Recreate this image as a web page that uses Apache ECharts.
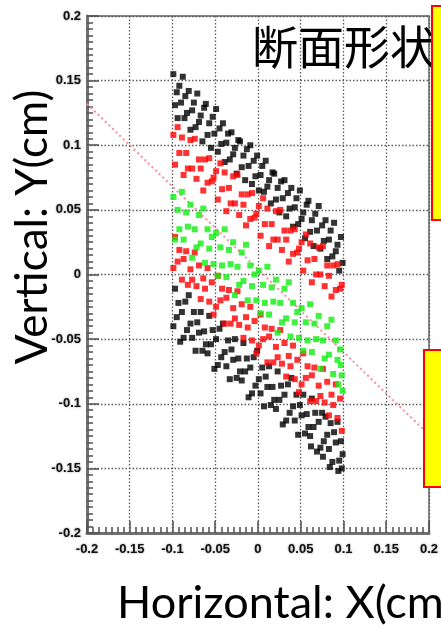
<!DOCTYPE html>
<html>
<head>
<meta charset="utf-8">
<script src="https://cdn.jsdelivr.net/npm/echarts@6.0.0/dist/echarts.min.js"></script>
<style>
html, body { margin: 0; padding: 0; background: #fff; }
#chart { width: 441px; height: 626px; }
</style>
</head>
<body>
<div id="chart"></div>
<script>
// outer (black) particles, upper and lower bands
const blackPts = [
  [-0.099,0.155],[-0.097,0.131],[-0.095,0.141],[-0.094,0.121],[-0.092,0.146],[-0.090,0.133],[-0.088,0.153],[-0.086,0.121],
  [-0.085,0.138],[-0.083,0.125],[-0.081,0.142],[-0.079,0.112],[-0.077,0.127],[-0.075,0.133],[-0.073,0.114],[-0.071,0.140],
  [-0.069,0.118],[-0.067,0.123],[-0.065,0.103],[-0.063,0.129],[-0.061,0.132],[-0.059,0.108],[-0.057,0.117],[-0.055,0.098],
  [-0.053,0.122],[-0.051,0.109],[-0.049,0.128],[-0.047,0.095],[-0.045,0.113],[-0.043,0.101],[-0.041,0.117],[-0.039,0.087],
  [-0.037,0.102],[-0.035,0.109],[-0.033,0.089],[-0.031,0.110],[-0.029,0.093],[-0.027,0.098],[-0.025,0.078],[-0.023,0.104],
  [-0.021,0.103],[-0.019,0.083],[-0.017,0.092],[-0.015,0.073],[-0.013,0.097],[-0.011,0.084],[-0.009,0.100],[-0.007,0.070],
  [-0.005,0.088],[-0.003,0.076],[-0.001,0.092],[0.001,0.065],[0.003,0.077],[0.005,0.084],[0.007,0.064],[0.009,0.088],
  [0.011,0.068],[0.013,0.073],[0.015,0.055],[0.017,0.079],[0.019,0.078],[0.021,0.058],[0.023,0.067],[0.025,0.048],
  [0.027,0.072],[0.029,0.059],[0.031,0.073],[0.033,0.045],[0.035,0.063],[0.037,0.051],[0.039,0.067],[0.041,0.037],
  [0.043,0.052],[0.045,0.059],[0.047,0.039],[0.049,0.065],[0.051,0.043],[0.053,0.048],[0.055,0.028],[0.057,0.054],
  [0.059,0.057],[0.061,0.033],[0.063,0.042],[0.065,0.022],[0.067,0.047],[0.069,0.034],[0.071,0.053],[0.073,0.020],
  [0.075,0.038],[0.077,0.026],[0.079,0.042],[0.081,0.012],[0.083,0.027],[0.085,0.034],[0.087,0.014],[0.089,0.040],
  [0.091,0.018],[0.093,0.023],[0.095,0.003],[0.097,0.029],[0.099,0.009],
  [-0.099,-0.040],[-0.097,-0.011],[-0.095,-0.033],[-0.093,-0.022],[-0.091,-0.052],[-0.089,-0.029],[-0.087,-0.049],[-0.085,-0.021],
  [-0.083,-0.043],[-0.081,-0.016],[-0.079,-0.038],[-0.077,-0.049],[-0.075,-0.029],[-0.073,-0.059],[-0.071,-0.037],[-0.069,-0.045],
  [-0.067,-0.029],[-0.065,-0.059],[-0.063,-0.044],[-0.061,-0.054],[-0.059,-0.061],[-0.057,-0.032],[-0.055,-0.054],[-0.053,-0.043],
  [-0.051,-0.073],[-0.049,-0.050],[-0.047,-0.070],[-0.045,-0.042],[-0.043,-0.064],[-0.041,-0.038],[-0.039,-0.060],[-0.037,-0.071],
  [-0.035,-0.051],[-0.033,-0.081],[-0.031,-0.058],[-0.029,-0.066],[-0.027,-0.050],[-0.025,-0.080],[-0.023,-0.065],[-0.021,-0.075],
  [-0.019,-0.082],[-0.017,-0.053],[-0.015,-0.075],[-0.013,-0.065],[-0.011,-0.095],[-0.009,-0.072],[-0.007,-0.092],[-0.005,-0.064],
  [-0.003,-0.086],[-0.001,-0.059],[0.001,-0.081],[0.003,-0.092],[0.005,-0.072],[0.007,-0.102],[0.009,-0.079],[0.011,-0.087],
  [0.013,-0.071],[0.015,-0.101],[0.017,-0.087],[0.019,-0.097],[0.021,-0.104],[0.023,-0.075],[0.025,-0.097],[0.027,-0.086],
  [0.029,-0.116],[0.031,-0.093],[0.033,-0.113],[0.035,-0.085],[0.037,-0.107],[0.039,-0.080],[0.041,-0.102],[0.043,-0.113],
  [0.045,-0.093],[0.047,-0.124],[0.049,-0.101],[0.051,-0.109],[0.053,-0.093],[0.055,-0.123],[0.057,-0.108],[0.059,-0.118],
  [0.061,-0.125],[0.063,-0.096],[0.065,-0.118],[0.067,-0.107],[0.069,-0.137],[0.071,-0.114],[0.073,-0.134],[0.075,-0.107],
  [0.077,-0.129],[0.079,-0.110],[0.081,-0.124],[0.083,-0.135],[0.085,-0.115],[0.087,-0.145],[0.089,-0.122],[0.091,-0.130],
  [0.093,-0.114],[0.095,-0.144],[0.097,-0.129],[0.099,-0.139],[0.094,-0.152],[0.084,-0.149],[0.076,-0.141],[0.062,-0.133],
  [0.098,-0.150]
]

// middle (red) particles, upper and lower bands
const redPts = [
  [-0.099,0.108],[-0.097,0.085],[-0.094,0.114],[-0.092,0.094],[-0.089,0.106],[-0.087,0.077],[-0.084,0.094],[-0.082,0.082],
  [-0.079,0.104],[-0.077,0.082],[-0.074,0.105],[-0.072,0.074],[-0.069,0.089],[-0.067,0.082],[-0.064,0.065],[-0.062,0.089],
  [-0.059,0.071],[-0.057,0.090],[-0.054,0.072],[-0.052,0.075],[-0.049,0.080],[-0.047,0.058],[-0.044,0.086],[-0.042,0.066],
  [-0.039,0.079],[-0.037,0.049],[-0.034,0.067],[-0.032,0.055],[-0.029,0.076],[-0.027,0.055],[-0.024,0.077],[-0.022,0.046],
  [-0.019,0.062],[-0.017,0.054],[-0.014,0.038],[-0.012,0.062],[-0.009,0.043],[-0.007,0.063],[-0.004,0.044],[-0.002,0.047],
  [0.001,0.053],[0.003,0.030],[0.006,0.059],[0.008,0.039],[0.011,0.051],[0.013,0.022],[0.016,0.039],[0.018,0.027],
  [0.021,0.049],[0.023,0.027],[0.026,0.050],[0.028,0.019],[0.031,0.034],[0.033,0.027],[0.036,0.010],[0.038,0.034],
  [0.041,0.016],[0.043,0.035],[0.046,0.017],[0.048,0.020],[0.051,0.025],[0.053,0.003],[0.056,0.031],[0.058,0.011],
  [0.061,0.024],[0.063,-0.006],[0.066,0.012],[0.068,0.000],[0.071,0.021],[0.073,0.000],[0.076,0.022],[0.078,-0.009],
  [0.081,0.007],[0.083,-0.001],[0.086,-0.017],[0.088,0.007],[0.091,-0.012],[0.093,0.008],[0.096,-0.011],[0.098,-0.008],
  [-0.099,0.005],[-0.097,0.029],[-0.094,0.010],[-0.092,0.019],[-0.089,-0.004],[-0.087,0.012],[-0.084,0.018],[-0.082,-0.008],
  [-0.079,0.004],[-0.077,-0.004],[-0.074,0.017],[-0.072,-0.009],[-0.069,0.007],[-0.067,-0.019],[-0.064,-0.003],[-0.062,-0.011],
  [-0.059,0.005],[-0.057,-0.021],[-0.054,-0.006],[-0.052,-0.031],[-0.049,-0.025],[-0.047,-0.001],[-0.044,-0.020],[-0.042,-0.011],
  [-0.039,-0.038],[-0.037,-0.018],[-0.034,-0.012],[-0.032,-0.038],[-0.029,-0.026],[-0.027,-0.034],[-0.024,-0.013],[-0.022,-0.039],
  [-0.019,-0.023],[-0.017,-0.049],[-0.014,-0.033],[-0.012,-0.041],[-0.009,-0.025],[-0.007,-0.051],[-0.004,-0.036],[-0.002,-0.061],
  [0.001,-0.055],[0.003,-0.031],[0.006,-0.050],[0.008,-0.041],[0.011,-0.068],[0.013,-0.048],[0.016,-0.042],[0.018,-0.068],
  [0.021,-0.056],[0.023,-0.064],[0.026,-0.043],[0.028,-0.069],[0.031,-0.053],[0.033,-0.079],[0.036,-0.063],[0.038,-0.071],
  [0.041,-0.055],[0.043,-0.081],[0.046,-0.066],[0.048,-0.091],[0.051,-0.085],[0.053,-0.061],[0.056,-0.080],[0.058,-0.071],
  [0.061,-0.098],[0.063,-0.078],[0.066,-0.072],[0.068,-0.098],[0.071,-0.086],[0.073,-0.094],[0.076,-0.073],[0.078,-0.099],
  [0.081,-0.083],[0.083,-0.109],[0.086,-0.093],[0.088,-0.101],[0.091,-0.085],[0.093,-0.111],[0.096,-0.096],[0.098,-0.121]
]

// core (green) particles
const greenPts = [
  [-0.099,0.060],[-0.097,0.027],[-0.094,0.050],[-0.092,0.035],[-0.089,0.064],[-0.087,0.027],[-0.084,0.048],[-0.082,0.037],
  [-0.079,0.054],[-0.077,0.013],[-0.074,0.035],[-0.072,0.021],[-0.069,0.046],[-0.067,0.024],[-0.064,0.051],[-0.062,0.009],
  [-0.059,0.035],[-0.057,0.020],[-0.054,0.029],[-0.052,0.008],[-0.049,0.032],[-0.047,-0.001],[-0.044,0.021],[-0.042,0.007],
  [-0.039,0.035],[-0.037,-0.002],[-0.034,0.019],[-0.032,0.008],[-0.029,0.025],[-0.027,-0.016],[-0.024,0.006],[-0.022,-0.008],
  [-0.019,0.017],[-0.017,-0.005],[-0.014,0.023],[-0.012,-0.020],[-0.009,0.007],[-0.007,-0.009],[-0.004,0.000],[-0.002,-0.020],
  [0.001,0.003],[0.003,-0.030],[0.006,-0.008],[0.008,-0.022],[0.011,0.006],[0.013,-0.031],[0.016,-0.010],[0.018,-0.021],
  [0.021,-0.004],[0.023,-0.045],[0.026,-0.022],[0.028,-0.037],[0.031,-0.011],[0.033,-0.034],[0.036,-0.006],[0.038,-0.048],
  [0.041,-0.022],[0.043,-0.037],[0.046,-0.029],[0.048,-0.049],[0.051,-0.026],[0.053,-0.059],[0.056,-0.037],[0.058,-0.051],
  [0.061,-0.023],[0.063,-0.060],[0.066,-0.038],[0.068,-0.050],[0.071,-0.032],[0.073,-0.073],[0.076,-0.051],[0.078,-0.065],
  [0.081,-0.040],[0.083,-0.062],[0.086,-0.035],[0.088,-0.077],[0.091,-0.051],[0.093,-0.066],[0.096,-0.058],[0.098,-0.078],
  [0.099,-0.090],[0.094,-0.085],[0.097,-0.070]
]

// tilt guide line end points
const tiltLine = [[-0.2, 0.132], [0.2, -0.124]]

const chart = echarts.init(document.getElementById('chart'))

const axisCommon = {
  type: 'value',
  min: -0.2,
  max: 0.2,
  interval: 0.05,
  axisLine: { show: true, onZero: false, lineStyle: { color: '#707070', width: 3 } },
  axisTick: { show: true, inside: true, length: 12, lineStyle: { color: '#505050', width: 1.5 } },
  minorTick: { show: true, length: 6, lineStyle: { color: '#505050', width: 1.5 } },
  splitLine: { show: true, lineStyle: { color: '#5a5a5a', width: 1.3, type: [1.5, 2] } },
  axisLabel: {
    show: true,
    color: '#111',
    fontFamily: 'Liberation Sans',
    fontWeight: 'bold',
    fontSize: 13,
    textShadowColor: 'rgba(0,0,0,0.5)',
    textShadowBlur: 2,
    showMinLabel: true,
    showMaxLabel: true
  }
}

function pointSeries(data, color) {
  return {
    type: 'scatter',
    data: data,
    symbol: 'rect',
    symbolSize: 6,
    itemStyle: { color: color },
    z: 3
  }
}

chart.setOption({
  animation: false,
  grid: {
    left: 87, top: 16, right: 11, bottom: 93,
    show: true, borderColor: '#8a8a8a', borderWidth: 2, backgroundColor: 'transparent'
  },
  xAxis: Object.assign({}, axisCommon, {
    minorTick: Object.assign({}, axisCommon.minorTick, { splitNumber: 7 }),
    axisLabel: Object.assign({}, axisCommon.axisLabel, { margin: 10 })
  }),
  yAxis: Object.assign({}, axisCommon, {
    minorTick: Object.assign({}, axisCommon.minorTick, { splitNumber: 10 }),
    axisLabel: Object.assign({}, axisCommon.axisLabel, { margin: 6 })
  }),
  series: [
    {
      type: 'line',
      data: tiltLine,
      symbol: 'none',
      lineStyle: { color: '#ff8a9a', width: 2, type: [2, 3] },
      z: 2
    },
    pointSeries(blackPts, '#000000'),
    pointSeries(redPts, '#ff0000'),
    pointSeries(greenPts, '#11ee11')
  ],
  graphic: [
    {
      type: 'text', x: 252, y: 47, z: 10,
      style: {
        text: '断面形状', fontFamily: 'Noto Sans CJK JP', fontSize: 46, fill: '#000',
        align: 'left', verticalAlign: 'middle'
      }
    },
    {
      type: 'rect', z: 20,
      shape: { x: 432, y: 6, width: 20, height: 214 },
      style: { fill: '#ffff00', stroke: '#ff0000', lineWidth: 2 }
    },
    {
      type: 'rect', z: 20,
      shape: { x: 424, y: 350, width: 30, height: 137 },
      style: { fill: '#ffff00', stroke: '#ff0000', lineWidth: 2 }
    },
    {
      type: 'text', z: 10, x: 33, y: 227, rotation: Math.PI / 2,
      style: {
        text: 'Vertical: Y(cm)', fontFamily: 'Lato', fontSize: 44, fill: '#000',
        align: 'center', verticalAlign: 'middle'
      }
    },
    {
      type: 'text', z: 10, x: 117, y: 603,
      style: {
        text: 'Horizontal: X(cm)', fontFamily: 'Lato', fontSize: 45, fill: '#000',
        align: 'left', verticalAlign: 'middle'
      }
    }
  ]
})
</script>
</body>
</html>
